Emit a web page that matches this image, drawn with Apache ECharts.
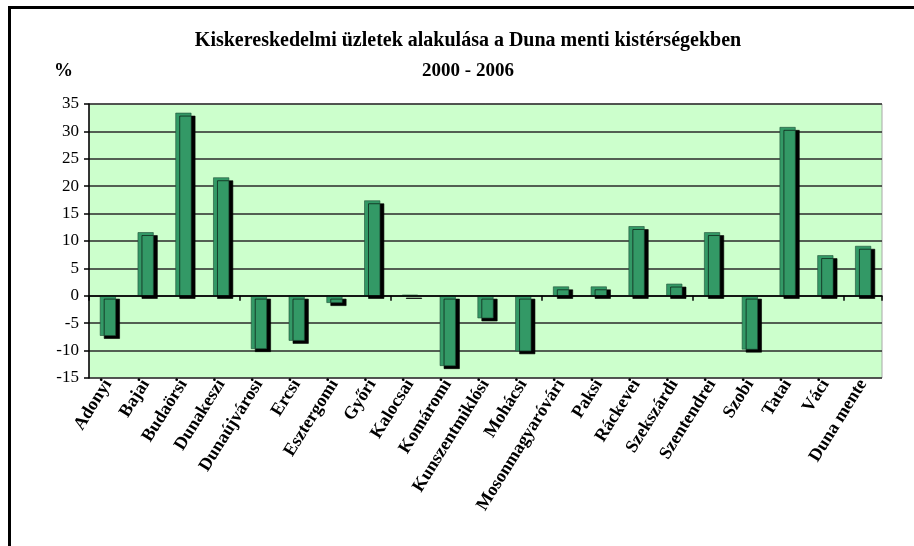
<!DOCTYPE html>
<html>
<head>
<meta charset="utf-8">
<script src="https://cdn.jsdelivr.net/npm/echarts@6/dist/echarts.min.js"></script>
<style>html,body{margin:0;padding:0;background:#fff}#c{width:914px;height:546px}</style>
</head>
<body>
<div id="c"></div>
<script>
var categories = ['Adonyi','Bajai','Budaörsi','Dunakeszi','Dunaújvárosi','Ercsi','Esztergomi','Győri','Kalocsai','Komáromi','Kunszentmiklósi','Mohácsi','Mosonmagyaróvári','Paksi','Ráckevei','Szekszárdi','Szentendrei','Szobi','Tatai','Váci','Duna mente'];
var values = [-7.3, 11.6, 33.4, 21.6, -9.7, -8.2, -1.3, 17.4, 0.2, -12.8, -4.1, -10.1, 1.7, 1.7, 12.7, 2.2, 11.6, -9.8, 30.8, 7.4, 9.1];
var yTicks = {min: -15, max: 35, interval: 5};
var titleLines = ['Kiskereskedelmi üzletek alakulása a Duna menti kistérségekben', '2000 - 2006'];
var unitLabel = '%';

var serif = '"Liberation Serif", "DejaVu Serif", serif';
var chart = echarts.init(document.getElementById('c'), null, {renderer: 'canvas'});
chart.setOption({
  animation: false,
  backgroundColor: '#fff',
  graphic: [
    {type: 'rect', shape: {x: 9.5, y: 7.5, width: 1200, height: 1200}, style: {fill: 'none', stroke: '#000', lineWidth: 3}, z: 100},
    {type: 'text', x: 468, y: 31, style: {text: titleLines[0], font: 'bold 20px ' + serif, fill: '#000', align: 'center'}},
    {type: 'text', x: 468, y: 62, style: {text: titleLines[1], font: 'bold 19px ' + serif, fill: '#000', align: 'center'}},
    {type: 'text', x: 54, y: 62, style: {text: unitLabel, font: 'bold 19px ' + serif, fill: '#000'}}
  ],
  grid: {left: 89, right: 32, top: 104, bottom: 168, show: true, backgroundColor: '#ccffcc', borderColor: '#a8a8a8', borderWidth: 1},
  xAxis: [
    {type: 'category', data: categories, position: 'bottom',
     axisLine: {onZero: true, lineStyle: {color: '#000', width: 1.5}},
     axisTick: {show: true, length: 5, lineStyle: {color: '#000', width: 1.5}},
     axisLabel: {show: false}, splitLine: {show: false}, z: 5},
    {type: 'category', data: categories, position: 'bottom',
     axisLine: {show: false, onZero: false}, axisTick: {show: false},
     axisLabel: {show: true, rotate: 58, interval: 0, margin: 3, fontFamily: serif, fontWeight: 'bold', fontSize: 18, color: '#000'}}
  ],
  yAxis: {type: 'value', min: yTicks.min, max: yTicks.max, interval: yTicks.interval,
    axisLine: {show: true, lineStyle: {color: '#000', width: 1.5}},
    axisTick: {show: true, length: 5, lineStyle: {color: '#000', width: 1.5}},
    axisLabel: {fontFamily: serif, fontSize: 17, color: '#000', margin: 10},
    splitLine: {show: true, lineStyle: {color: '#2a2a2a', width: 1.5}}},
  series: [{
    type: 'bar', data: values, xAxisIndex: 0, barWidth: 16,
    itemStyle: {color: '#339966', borderColor: '#1e4d35', borderWidth: 0.6,
      shadowColor: '#000', shadowBlur: 0, shadowOffsetX: 4, shadowOffsetY: 3}
  }]
});
</script>
</body>
</html>
